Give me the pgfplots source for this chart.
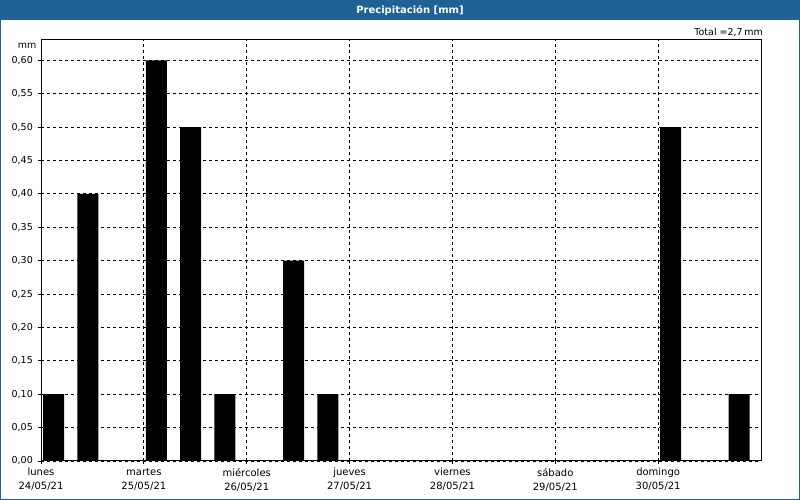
\documentclass[border=0pt]{standalone}
\usepackage{fontspec}
\setmainfont{DejaVu Sans}
\usepackage{pgfplots}
\pgfplotsset{compat=1.18}
\definecolor{titleblue}{RGB}{30,98,150}
\begin{document}
\begin{tikzpicture}[x=1pt,y=1pt,font=\fontsize{9.5}{14}\selectfont]
\fill[white] (0,0) rectangle (800,500);
\fill[titleblue] (0,479.5) rectangle (800,500);
\fill[titleblue] (0,0) rectangle (1.2,500);
\fill[titleblue] (798.8,0) rectangle (800,500);
\fill[titleblue] (0,0) rectangle (800,1.2);
\node[white, font=\fontsize{10}{12}\selectfont\bfseries] at (410,489.5) {Precipitación [mm]};
\node[anchor=east, inner sep=0pt] at (763,468) {Total =2,7\,mm};
\node[anchor=east, inner sep=0pt] at (36.5,454) {mm};
\begin{axis}[
  at={(41pt,39pt)}, anchor=south west,
  scale only axis, width=720pt, height=421pt,
  xmin=0, xmax=21, ymin=0, ymax=0.6304,
  axis line style={black, line width=1pt},
  xtick={0,3,6,9,12,15,18},
  xticklabels={{lunes\\24/05/21},{martes\\25/05/21},{miércoles\\26/05/21},{jueves\\27/05/21},{viernes\\28/05/21},{sábado\\29/05/21},{domingo\\30/05/21}},
  xticklabel style={align=center, font=\fontsize{10}{14}\selectfont, inner sep=0pt, yshift=-4pt},
  ytick={0,0.05,0.1,0.15,0.2,0.25,0.3,0.35,0.4,0.45,0.5,0.55,0.6},
  yticklabel style={font=\fontsize{9.5}{11}\selectfont, inner sep=0pt, xshift=-5pt},
  yticklabel={\pgfmathprintnumber[fixed, fixed zerofill, precision=2, use comma, assume math mode=true]{\tick}},
  tick align=outside, major tick length=3pt,
  tick style={black, line width=0.8pt},
  xtick pos=bottom, ytick pos=left,
  xmajorgrids, ymajorgrids,
  major grid style={black, line width=0.8pt, dash pattern=on 3pt off 3pt},
]
\addplot[ybar, bar width=0.612, bar shift=0pt, fill=black, draw=none] coordinates {
(0.365,0.1) (1.365,0.4) (3.365,0.6) (4.365,0.5) (5.365,0.1) (7.365,0.3) (8.365,0.1) (18.365,0.5) (20.365,0.1)
};
\end{axis}
\end{tikzpicture}
\end{document}
